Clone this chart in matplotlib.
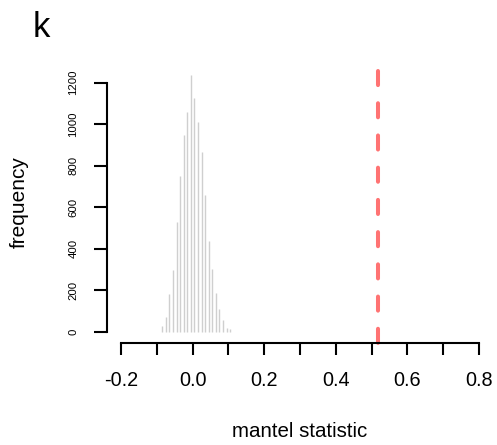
"""Permutation null distribution of the Mantel statistic (panel k)."""
import matplotlib
matplotlib.use("Agg")
import matplotlib.pyplot as plt

plt.rcParams["font.family"] = ["Liberation Sans", "DejaVu Sans"]

# histogram of permuted statistics (bin centres, width 0.01)
bin_centers = [-0.085, -0.075, -0.065, -0.055, -0.045, -0.035, -0.025, -0.015,
               -0.005, 0.005, 0.015, 0.025, 0.035, 0.045, 0.055, 0.065,
               0.075, 0.085, 0.095, 0.105]
counts = [27, 71, 182, 297, 528, 749, 948, 1057, 1237, 1124,
          1010, 866, 659, 437, 300, 186, 111, 56, 19, 11]
observed = 0.518

x_ticks = [-0.2, -0.1, 0.0, 0.1, 0.2, 0.3, 0.4, 0.5, 0.6, 0.7, 0.8]
x_labels = ["-0.2", "", "0.0", "", "0.2", "", "0.4", "", "0.6", "", "0.8"]
y_ticks = [0, 200, 400, 600, 800, 1000, 1200]

W, H = 497, 445
fig = plt.figure(figsize=(W / 100, H / 100), dpi=100)
ax = fig.add_axes([106.7 / W, (H - 342.7) / H, 386.7 / W, 274.7 / H])
ax.set_xlim(-0.24, 0.84)
ax.set_ylim(-53, 1271)

ax.vlines(bin_centers, 0, counts, color="#cfcfcf", lw=1.0)
ax.plot([observed, observed], [1271 - 2.5 * 4.82, -53], color="#ff7373",
        lw=2.9, dashes=(3.5, 4.5), dash_capstyle="round", clip_on=False)

for s in ["top", "right"]:
    ax.spines[s].set_visible(False)
ax.spines["left"].set_bounds(0, 1200)
ax.spines["bottom"].set_bounds(-0.2, 0.8)
for s in ["left", "bottom"]:
    ax.spines[s].set_linewidth(1.5)

ax.set_xticks(x_ticks)
ax.set_xticklabels(x_labels, fontsize=14.3)
ax.set_yticks(y_ticks)
ax.set_yticklabels([str(v) for v in y_ticks], fontsize=8.2, rotation=90,
                   va="center")
ax.tick_params(axis="x", length=8.6, width=1.5, pad=12)
ax.tick_params(axis="y", length=9.4, width=1.5, pad=11)

fig.text(300 / W, (H - 437) / H, "mantel statistic", ha="center",
         va="baseline", fontsize=14.8)
fig.text(19 / W, (H - 202.5) / H, "frequency", ha="center", va="center",
         rotation=90, fontsize=15)
fig.text(41.5 / W, (H - 37) / H, "k", ha="center", va="baseline", fontsize=25)

fig.savefig("out.png", dpi=100)
